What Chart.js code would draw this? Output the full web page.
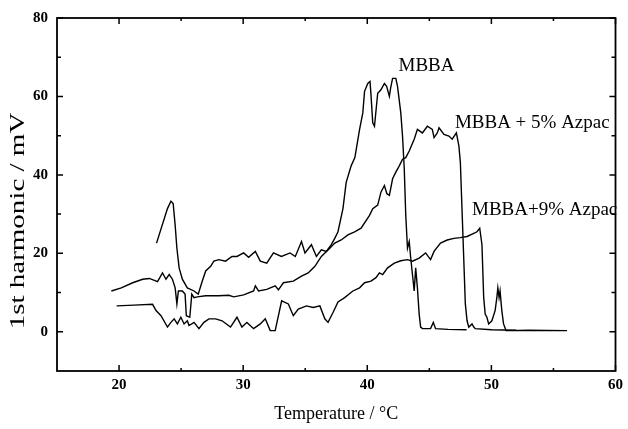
<!DOCTYPE html>
<html>
<head>
<meta charset="utf-8">
<script src="https://cdn.jsdelivr.net/npm/chart.js@4.4.1/dist/chart.umd.min.js"></script>
<style>
  html, body { margin: 0; padding: 0; background: #fff; }
  #wrap { width: 628px; height: 429px; position: relative; }
</style>
</head>
<body>
<div id="wrap"><canvas id="chart"></canvas></div>
<script>
// axis ticks
const xTicks = [20, 30, 40, 50, 60];
const xMinor = [25, 35, 45, 55];
const yTicks = [0, 20, 40, 60, 80];
const yMinor = [10, 30, 50, 70];

// MBBA
const mbbaT = [23.02, 23.9, 24.18, 24.36, 24.52, 24.66, 24.84, 25.1, 25.5, 26.04, 26.38,
  26.7, 26.98, 27.38, 27.64, 28.04, 28.58, 29.1, 29.5, 30.04, 30.44, 30.98, 31.38, 31.9,
  32.44, 33.08, 33.78, 34.2, 34.7, 34.98, 35.5, 35.9, 36.3, 36.7, 37.1, 37.38, 37.64,
  38.04, 38.3, 38.7, 39.0, 39.38, 39.64, 39.78, 40.04, 40.22, 40.3, 40.44, 40.58, 40.84,
  41.1, 41.38, 41.56, 41.78, 41.88, 42.04, 42.3, 42.44, 42.7, 42.84, 42.98, 43.1, 43.24,
  43.38, 43.5, 43.64, 43.78, 43.9, 44.04, 44.18, 44.3, 44.44, 45.1, 45.32, 45.5, 46.5, 48.0];
const mbbaV = [22.6, 31.4, 33.3, 32.7, 27.2, 21.3, 16.3, 13.4, 11.2, 10.4, 9.6,
  12.9, 15.5, 16.7, 18.0, 18.4, 18.0, 19.2, 19.2, 20.1, 19.0, 20.5, 18.0, 17.5,
  20.1, 19.2, 20.1, 19.2, 23.0, 20.1, 22.2, 19.2, 20.9, 20.5, 22.2, 23.8, 25.5,
  31.4, 38.1, 42.3, 44.4, 51.6, 55.8, 61.3, 63.3, 63.8, 60.4, 53.3, 52.4, 60.8,
  61.7, 63.3, 62.6, 60.0, 62.1, 64.6, 64.6, 62.5, 55.8, 49.9, 41.5, 29.7, 21.3,
  23.0, 18.8, 14.6, 10.4, 16.3, 11.2, 4.5, 1.2, 0.8, 0.8, 2.4, 0.8, 0.6, 0.5];

// MBBA + 5% Azpac
const azp5T = [19.38, 20.18, 21.1, 21.9, 22.44, 23.1, 23.5, 23.78, 24.04, 24.3, 24.52,
  24.66, 24.78, 25.1, 25.32, 25.42, 25.7, 25.86, 26.04, 26.3, 26.98, 28.04, 28.84, 29.24,
  30.04, 30.84, 30.98, 31.24, 31.9, 32.58, 32.84, 33.24, 34.04, 34.7, 35.24, 35.78, 36.3,
  36.98, 37.38, 37.9, 38.44, 38.98, 39.5, 40.18, 40.44, 40.84, 41.1, 41.38, 41.58, 41.78,
  42.04, 42.3, 42.58, 42.84, 43.1, 43.38, 43.78, 44.04, 44.44, 44.84, 45.24, 45.38, 45.64,
  45.78, 46.18, 46.58, 46.84, 47.18, 47.38, 47.5, 47.64, 47.78, 47.9, 48.04, 48.18, 48.44,
  48.58, 48.7, 50.0, 52.0];
const azp5V = [10.4, 11.2, 12.5, 13.4, 13.6, 12.8, 15.0, 13.4, 14.6, 13.4, 11.2,
  7.1, 10.4, 10.4, 9.6, 4.1, 3.7, 9.6, 8.7, 8.9, 9.2, 9.2, 9.3, 8.9,
  9.4, 10.4, 11.7, 10.4, 10.8, 11.7, 10.7, 12.5, 12.9, 14.2, 15.0, 16.7, 19.2,
  21.3, 22.6, 23.4, 24.7, 25.5, 26.4, 29.7, 31.4, 32.3, 35.6, 37.3, 35.2, 34.8,
  39.0, 40.7, 42.3, 44.0, 44.4, 46.1, 49.1, 51.6, 50.7, 52.4, 51.6, 49.5, 50.7,
  52.0, 50.3, 49.9, 49.1, 50.7, 47.4, 43.2, 30.6, 18.0, 7.1, 2.8, 1.2, 2.0,
  1.2, 0.8, 0.5, 0.4];

// MBBA + 9% Azpac
const azp9T = [19.8, 21.2, 22.7, 22.98, 23.38, 23.9, 24.18, 24.44, 24.7, 24.98, 25.24,
  25.5, 25.64, 26.04, 26.44, 26.84, 27.24, 27.78, 28.3, 28.98, 29.5, 29.9, 30.3, 30.84,
  31.38, 31.78, 32.18, 32.58, 33.1, 33.64, 34.04, 34.44, 35.1, 35.64, 36.18, 36.58, 36.84,
  37.24, 37.64, 38.18, 38.84, 39.38, 39.78, 40.3, 40.7, 40.98, 41.24, 41.64, 42.18, 42.7,
  43.24, 43.64, 44.18, 44.7, 45.1, 45.38, 45.9, 46.44, 46.98, 47.5, 48.04, 48.58, 48.84,
  49.06, 49.24, 49.38, 49.5, 49.64, 49.78, 50.04, 50.3, 50.44, 50.52, 50.62, 50.7, 50.84,
  50.98, 51.18, 53.0, 56.1];
const azp9V = [6.6, 6.8, 7.0, 5.4, 4.1, 1.2, 2.4, 3.3, 2.0, 3.7, 2.0,
  2.8, 1.6, 2.4, 0.8, 2.4, 3.3, 3.3, 2.8, 1.2, 3.7, 1.2, 2.4, 0.8,
  2.0, 3.3, 0.3, 0.3, 7.9, 7.1, 4.1, 5.8, 6.6, 6.2, 6.6, 3.3, 2.4,
  4.9, 7.6, 8.7, 10.4, 11.2, 12.5, 12.9, 13.8, 15.0, 14.6, 16.3, 17.5, 18.1,
  18.4, 18.0, 18.8, 20.1, 18.4, 20.5, 22.6, 23.4, 23.8, 24.0, 24.3, 25.1, 25.5,
  26.4, 22.2, 8.7, 4.5, 3.7, 2.0, 2.8, 5.4, 8.7, 11.2, 8.7, 10.4, 5.4,
  2.0, 0.3, 0.4, 0.3];

const seriesNames = ['MBBA', 'MBBA + 5% Azpac', 'MBBA+9% Azpac'];

const toPoints = (ts, vs) => ts.map((t, i) => ({ x: t, y: vs[i] }));

const serif = "'Liberation Serif', 'DejaVu Serif', serif";

// frame with inward ticks on all four sides
const frameTicks = {
  id: 'frameTicks',
  afterDraw(chart) {
    const { ctx, chartArea: a, scales: { x, y } } = chart;
    ctx.save();
    ctx.strokeStyle = '#000';
    ctx.lineWidth = 1.8;
    ctx.strokeRect(a.left, a.top, a.right - a.left, a.bottom - a.top);
    ctx.lineWidth = 1.5;
    ctx.beginPath();
    const xMark = (v, len) => {
      const px = x.getPixelForValue(v);
      ctx.moveTo(px, a.bottom); ctx.lineTo(px, a.bottom - len);
      ctx.moveTo(px, a.top); ctx.lineTo(px, a.top + len);
    };
    const yMark = (v, len) => {
      const py = y.getPixelForValue(v);
      ctx.moveTo(a.left, py); ctx.lineTo(a.left + len, py);
      ctx.moveTo(a.right, py); ctx.lineTo(a.right - len, py);
    };
    xTicks.forEach(v => xMark(v, 6));
    xMinor.forEach(v => xMark(v, 3));
    yTicks.forEach(v => yMark(v, 6));
    yMinor.forEach(v => yMark(v, 4));
    ctx.stroke();
    ctx.restore();
  }
};

// series names and the y title, written on the canvas
const annotations = {
  id: 'annotations',
  afterDraw(chart, args, opts) {
    const { ctx, scales: { x, y } } = chart;
    ctx.save();
    ctx.fillStyle = '#000';
    ctx.font = '19px ' + serif;
    ctx.textBaseline = 'alphabetic';
    opts.names.forEach((n, i) => {
      ctx.fillText(n, x.getPixelForValue(opts.at[i][0]), y.getPixelForValue(opts.at[i][1]));
    });
    // y axis title, long in the original so stretched along its run
    ctx.translate(24, 221);
    ctx.rotate(-Math.PI / 2);
    ctx.scale(1.45, 1);
    ctx.font = '20px ' + serif;
    ctx.textAlign = 'center';
    ctx.fillText('1st harmonic / mV', 0, 0);
    ctx.restore();
  }
};

const line = (data) => ({
  data: data,
  showLine: true,
  borderColor: '#000',
  borderWidth: 1.4,
  pointRadius: 0,
  tension: 0,
  fill: false
});

new Chart(document.getElementById('chart'), {
  type: 'scatter',
  data: {
    datasets: [
      { label: seriesNames[0], ...line(toPoints(mbbaT, mbbaV)) },
      { label: seriesNames[1], ...line(toPoints(azp5T, azp5V)) },
      { label: seriesNames[2], ...line(toPoints(azp9T, azp9V)) }
    ]
  },
  options: {
    responsive: true,
    maintainAspectRatio: false,
    animation: false,
    layout: { padding: { top: 14, right: 9, left: 0, bottom: 0 } },
    plugins: {
      legend: { display: false },
      tooltip: { enabled: false },
      annotations: {
        names: seriesNames,
        at: [[42.52, 66.6], [47.06, 52.0], [48.44, 29.8]]
      }
    },
    scales: {
      x: {
        type: 'linear',
        min: 15,
        max: 60,
        grid: { display: false, drawTicks: false },
        border: { display: false },
        afterBuildTicks: s => { s.ticks = xTicks.map(v => ({ value: v })); },
        afterFit: s => { s.height = 58; },
        ticks: {
          color: '#000',
          padding: 5,
          font: { family: serif, size: 15, weight: 'bold' }
        },
        title: {
          display: true,
          text: 'Temperature / \u00B0C',
          color: '#000',
          padding: { top: 0, bottom: 4 },
          font: { family: serif, size: 18 }
        }
      },
      y: {
        type: 'linear',
        min: -10,
        max: 80,
        grid: { display: false, drawTicks: false },
        border: { display: false },
        afterBuildTicks: s => { s.ticks = yTicks.map(v => ({ value: v })); },
        afterFit: s => { s.width = 57; },
        ticks: {
          color: '#000',
          padding: 9,
          font: { family: serif, size: 15, weight: 'bold' }
        }
      }
    }
  },
  plugins: [frameTicks, annotations]
});
</script>
</body>
</html>
